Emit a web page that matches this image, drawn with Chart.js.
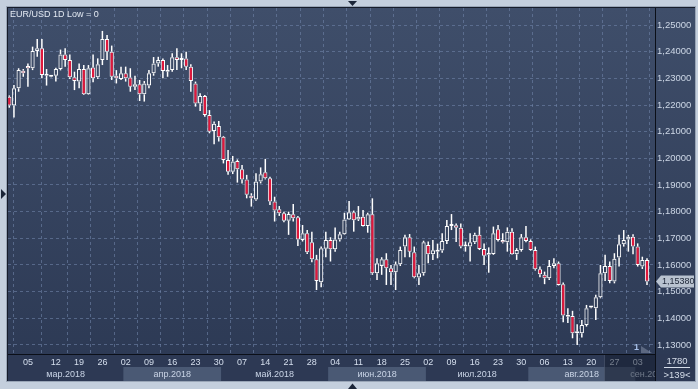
<!DOCTYPE html>
<html><head><meta charset="utf-8">
<script src="https://cdn.jsdelivr.net/npm/chart.js@4.4.1/dist/chart.umd.min.js"></script>
<style>html,body{margin:0;padding:0;background:#c4cfdd;overflow:hidden}canvas{display:block}</style>
</head><body>
<canvas id="c" width="698" height="389"></canvas>
<script>
// ---- data (EUR/USD daily) ----
const openP = [
1.2231,1.2198,1.2263,1.2329,1.2346,1.2338,1.2403,1.2413,1.2310,1.2306,
1.2310,1.2335,1.2390,1.2369,1.2304,1.2288,1.2335,1.2240,1.2341,1.2304,
1.2369,1.2448,1.2400,1.2310,1.2298,1.2319,1.2303,1.2269,1.2278,1.2240,
1.2273,1.2319,1.2356,1.2369,1.2325,1.2331,1.2379,1.2369,1.2375,1.2344,
1.2281,1.2206,1.2234,1.2163,1.2103,1.2121,1.2081,1.1994,1.1950,1.1990,
1.1959,1.1921,1.1860,1.1846,1.1913,1.1948,1.1925,1.1838,1.1809,1.1794,
1.1766,1.1790,1.1779,1.1694,1.1719,1.1685,1.1621,1.1535,1.1661,1.1694,
1.1659,1.1696,1.1715,1.1771,1.1798,1.1771,1.1781,1.1746,1.1790,1.1569,
1.1596,1.1621,1.1588,1.1573,1.1603,1.1669,1.1704,1.1648,1.1553,1.1569,
1.1675,1.1640,1.1650,1.1654,1.1690,1.1746,1.1749,1.1740,1.1669,1.1669,
1.1685,1.1713,1.1660,1.1638,1.1641,1.1734,1.1694,1.1685,1.1725,1.1640,
1.1656,1.1704,1.1690,1.1656,1.1584,1.1563,1.1550,1.1596,1.1606,1.1528,
1.1406,1.1409,1.1344,1.1344,1.1375,1.1440,1.1438,1.1479,1.1569,1.1596,
1.1538,1.1628,1.1678,1.1696,1.1706,1.1669,1.1594,1.1619];
const highP = [
1.2236,1.2275,1.2338,1.2335,1.2356,1.2419,1.2448,1.2448,1.2335,1.2310,
1.2340,1.2408,1.2413,1.2390,1.2325,1.2356,1.2350,1.2350,1.2390,1.2375,
1.2478,1.2463,1.2423,1.2331,1.2344,1.2344,1.2338,1.2310,1.2294,1.2290,
1.2331,1.2380,1.2381,1.2375,1.2350,1.2394,1.2413,1.2394,1.2400,1.2353,
1.2288,1.2244,1.2238,1.2181,1.2138,1.2140,1.2084,1.2031,1.2009,1.1996,
1.1975,1.1938,1.1869,1.1944,1.1966,1.1998,1.1931,1.1856,1.1821,1.1800,
1.1800,1.1829,1.1784,1.1750,1.1731,1.1725,1.1638,1.1669,1.1725,1.1704,
1.1741,1.1725,1.1796,1.1840,1.1804,1.1821,1.1806,1.1796,1.1850,1.1625,
1.1629,1.1644,1.1600,1.1613,1.1669,1.1713,1.1716,1.1669,1.1600,1.1691,
1.1688,1.1694,1.1680,1.1719,1.1769,1.1791,1.1756,1.1756,1.1688,1.1719,
1.1721,1.1744,1.1681,1.1666,1.1744,1.1750,1.1719,1.1741,1.1738,1.1663,
1.1716,1.1746,1.1696,1.1669,1.1594,1.1575,1.1619,1.1625,1.1613,1.1534,
1.1438,1.1428,1.1378,1.1394,1.1450,1.1444,1.1488,1.1600,1.1638,1.1613,
1.1644,1.1713,1.1731,1.1713,1.1715,1.1681,1.1631,1.1625];
const lowP = [
1.2190,1.2153,1.2250,1.2306,1.2269,1.2331,1.2381,1.2300,1.2273,1.2304,
1.2288,1.2330,1.2344,1.2298,1.2256,1.2263,1.2238,1.2238,1.2285,1.2298,
1.2350,1.2369,1.2294,1.2281,1.2294,1.2288,1.2250,1.2256,1.2215,1.2213,
1.2263,1.2310,1.2344,1.2300,1.2306,1.2325,1.2331,1.2338,1.2331,1.2250,
1.2194,1.2178,1.2156,1.2094,1.2053,1.2063,1.1981,1.1938,1.1941,1.1909,
1.1906,1.1850,1.1819,1.1841,1.1906,1.1921,1.1825,1.1763,1.1784,1.1760,
1.1713,1.1763,1.1671,1.1688,1.1641,1.1610,1.1506,1.1516,1.1629,1.1613,
1.1650,1.1688,1.1713,1.1769,1.1725,1.1765,1.1744,1.1721,1.1563,1.1544,
1.1563,1.1525,1.1525,1.1506,1.1596,1.1629,1.1629,1.1550,1.1525,1.1560,
1.1606,1.1619,1.1625,1.1646,1.1679,1.1731,1.1686,1.1663,1.1650,1.1613,
1.1679,1.1656,1.1600,1.1571,1.1638,1.1688,1.1681,1.1650,1.1638,1.1619,
1.1650,1.1685,1.1653,1.1579,1.1554,1.1528,1.1544,1.1588,1.1523,1.1385,
1.1382,1.1325,1.1300,1.1328,1.1369,1.1438,1.1394,1.1475,1.1540,1.1531,
1.1531,1.1594,1.1669,1.1650,1.1640,1.1594,1.1585,1.1525];
const closeP = [
1.2198,1.2263,1.2331,1.2319,1.2338,1.2403,1.2413,1.2313,1.2313,1.2308,
1.2335,1.2390,1.2369,1.2304,1.2290,1.2335,1.2240,1.2338,1.2300,1.2353,
1.2448,1.2400,1.2306,1.2300,1.2319,1.2300,1.2269,1.2278,1.2240,1.2281,
1.2319,1.2356,1.2369,1.2328,1.2331,1.2379,1.2369,1.2371,1.2344,1.2290,
1.2206,1.2234,1.2163,1.2100,1.2130,1.2079,1.1994,1.1950,1.1988,1.1959,
1.1921,1.1863,1.1850,1.1913,1.1940,1.1925,1.1838,1.1804,1.1794,1.1766,
1.1791,1.1775,1.1696,1.1719,1.1648,1.1621,1.1540,1.1663,1.1694,1.1659,
1.1696,1.1715,1.1771,1.1798,1.1768,1.1781,1.1746,1.1790,1.1569,1.1606,
1.1621,1.1588,1.1573,1.1603,1.1656,1.1704,1.1650,1.1554,1.1569,1.1685,
1.1640,1.1655,1.1655,1.1690,1.1746,1.1749,1.1740,1.1669,1.1671,1.1685,
1.1713,1.1660,1.1635,1.1641,1.1719,1.1694,1.1685,1.1725,1.1640,1.1656,
1.1704,1.1690,1.1656,1.1584,1.1565,1.1550,1.1596,1.1606,1.1525,1.1410,
1.1413,1.1344,1.1350,1.1375,1.1438,1.1441,1.1479,1.1569,1.1596,1.1540,
1.1623,1.1678,1.1694,1.1706,1.1669,1.1600,1.1619,1.1538];

const dayTickIdx = [4,10,15,20,25,30,35,40,45,50,55,60,65,70,75,80,85,90,95,100,105,110,115,120,125,130,135];
const dayTickLabels = ['05','12','19','26','02','09','16','23','30','07','14','21','28','04','11','18','25','02','09','16','23','30','06','13','20','27','03'];
const monthNames = ['мар.2018','апр.2018','май.2018','июн.2018','июл.2018','авг.2018','сен.2018'];
const monthStartIdx = [-10,25,46,69,90,112,135];
const priceTicks = [1.13,1.14,1.15,1.16,1.17,1.18,1.19,1.20,1.21,1.22,1.23,1.24,1.25];
const lastPrice = 1.15380;
const titleText = 'EUR/USD 1D Low = 0';
const barsTotal = '1780';
const barsVisible = '>139<';
const markerText = '1';

// ---- chart ----
const FONT = '"Liberation Sans", Arial, sans-serif';
Chart.defaults.font.family = FONT;
const RED = '#e0183c';
const fmt = v => v.toFixed(5).replace('.', ',');

const bodyData = openP.map((o, i) => ({x: i, y: [o, closeP[i]]}));
const upperWick = openP.map((o, i) => ({x: i, y: [Math.max(o, closeP[i]), highP[i]]}));
const lowerWick = openP.map((o, i) => ({x: i, y: [lowP[i], Math.min(o, closeP[i])]}));

const decor = {
  id: 'decor',
  beforeDraw(chart) {
    const {ctx, chartArea: a, width, height} = chart;
    const xs = chart.scales.x;
    ctx.save();
    ctx.fillStyle = '#c4cfdd';
    ctx.fillRect(0, 0, width, height);
    const g = ctx.createLinearGradient(0, a.top, 0, a.bottom);
    g.addColorStop(0, '#3f4e6a');
    g.addColorStop(1, '#2d3a55');
    ctx.fillStyle = g;
    ctx.fillRect(a.left, a.top, 695 - a.left, a.bottom - a.top);
    ctx.fillStyle = '#2d3954';
    ctx.fillRect(a.left, a.bottom, 695 - a.left, 381 - a.bottom);
    monthStartIdx.forEach((s, k) => {
      if (k % 2 === 1) {
        const x0 = Math.max(a.left, xs.getPixelForValue(s - 0.5));
        const e = k + 1 < monthStartIdx.length ? monthStartIdx[k + 1] - 0.5 : xs.max;
        const x1 = Math.min(a.right, xs.getPixelForValue(e));
        ctx.fillStyle = '#4a5974';
        ctx.fillRect(x0, 367, x1 - x0, 14);
      }
    });
    ctx.fillStyle = '#9aa6b7';
    ctx.fillRect(6, 6, 690, 1);
    ctx.fillRect(6, 6, 1, 376);
    ctx.fillRect(6, 381, 690, 1);
    ctx.fillRect(695, 6, 1, 376);
    ctx.fillStyle = '#161c2a';
    ctx.fillRect(7, 7, 688, 1);
    ctx.fillRect(7, 7, 1, 374);
    ctx.restore();
  },
  afterDraw(chart) {
    const {ctx, chartArea: a} = chart;
    const xs = chart.scales.x, ys = chart.scales.y;
    ctx.save();
    ctx.fillStyle = '#0b0f18';
    ctx.fillRect(a.right, a.top, 1, 381 - a.top);
    ctx.fillRect(a.left, a.bottom, a.right - a.left, 1);
    // month labels
    ctx.save();
    ctx.beginPath();
    ctx.rect(a.left, 366, a.right - a.left, 16);
    ctx.clip();
    ctx.font = '9px ' + FONT;
    ctx.fillStyle = '#c9d4e6';
    ctx.textBaseline = 'middle';
    monthStartIdx.forEach((s, k) => {
      const x0 = Math.max(a.left, xs.getPixelForValue(s - 0.5));
      if (k + 1 < monthStartIdx.length) {
        const xr = Math.min(a.right, xs.getPixelForValue(monthStartIdx[k + 1] - 0.5));
        ctx.textAlign = 'center';
        ctx.fillText(monthNames[k], (x0 + xr) / 2, 374.5);
      } else {
        ctx.textAlign = 'left';
        ctx.fillText(monthNames[k], x0 - 5, 374.5);
      }
    });
    ctx.restore();
    // dim overlay (navigator area)
    ctx.fillStyle = 'rgba(18,25,42,0.5)';
    ctx.fillRect(604, 355, a.right - 604, 26);
    ctx.fillStyle = 'rgba(120,135,160,0.35)';
    ctx.fillRect(604, 355, 1, 26);
    // marker
    ctx.fillStyle = 'rgba(150,162,185,0.45)';
    ctx.beginPath();
    ctx.moveTo(641, 346); ctx.lineTo(652, 353); ctx.lineTo(641, 353); ctx.closePath();
    ctx.fill();
    ctx.font = 'bold 9px ' + FONT;
    ctx.fillStyle = '#a9c2ea';
    ctx.textAlign = 'left';
    ctx.textBaseline = 'middle';
    ctx.fillText(markerText, 634, 348);
    // title
    ctx.font = '9px ' + FONT;
    ctx.fillStyle = '#e3e9f2';
    ctx.fillText(titleText, 10, 15);
    // last price tag
    const py = Math.round(ys.getPixelForValue(lastPrice)) + 0.5;
    ctx.fillStyle = '#b9c3d0';
    ctx.beginPath();
    ctx.moveTo(656, py);
    ctx.lineTo(661, py - 6);
    ctx.lineTo(694, py - 6);
    ctx.lineTo(694, py + 6);
    ctx.lineTo(661, py + 6);
    ctx.closePath();
    ctx.fill();
    ctx.font = '9px ' + FONT;
    ctx.fillStyle = '#1d2637';
    ctx.fillText(fmt(lastPrice), 662, py + 0.5);
    // bars counter box
    ctx.fillStyle = '#d6deea';
    ctx.textAlign = 'center';
    ctx.font = '9.5px ' + FONT;
    ctx.fillText(barsTotal, 677, 361);
    ctx.fillRect(664, 367, 26, 1);
    ctx.fillText(barsVisible, 677, 375);
    // frame triangles
    ctx.fillStyle = '#1b2538';
    ctx.beginPath(); ctx.moveTo(348, 1); ctx.lineTo(357, 1); ctx.lineTo(352.5, 6); ctx.closePath(); ctx.fill();
    ctx.beginPath(); ctx.moveTo(348, 389); ctx.lineTo(357, 389); ctx.lineTo(352.5, 383.5); ctx.closePath(); ctx.fill();
    ctx.beginPath(); ctx.moveTo(1, 189); ctx.lineTo(1, 199); ctx.lineTo(6, 194); ctx.closePath(); ctx.fill();
    ctx.restore();
  }
};

new Chart(document.getElementById('c'), {
  type: 'bar',
  data: {
    datasets: [
      {
        label: 'body',
        data: bodyData,
        backgroundColor: c => (closeP[c.dataIndex] < openP[c.dataIndex] ? RED : 'rgba(0,0,0,0)'),
        borderColor: '#ffffff',
        borderWidth: 1,
        borderSkipped: false,
        barThickness: 4.2,
        minBarLength: 2,
        grouped: false,
        inflateAmount: 0
      },
      {
        label: 'upper',
        data: upperWick,
        backgroundColor: '#ffffff',
        borderWidth: 0,
        barThickness: 1.5,
        grouped: false,
        inflateAmount: 0
      },
      {
        label: 'lower',
        data: lowerWick,
        backgroundColor: '#ffffff',
        borderWidth: 0,
        barThickness: 1.5,
        grouped: false,
        inflateAmount: 0
      }
    ]
  },
  options: {
    responsive: false,
    animation: false,
    events: [],
    devicePixelRatio: 1,
    layout: {padding: {left: 8, top: 8, right: 0, bottom: 0}},
    plugins: {legend: {display: false}, tooltip: {enabled: false}},
    scales: {
      x: {
        type: 'linear',
        min: -0.28,
        max: 138.72,
        offset: false,
        afterBuildTicks: s => { s.ticks = dayTickIdx.map(v => ({value: v})); },
        afterFit: s => { s.height = 35; },
        ticks: {
          autoSkip: false,
          maxRotation: 0,
          padding: 3,
          color: '#d5dfee',
          font: {size: 9},
          callback: v => { const k = dayTickIdx.indexOf(v); return k >= 0 ? dayTickLabels[k] : ''; }
        },
        grid: {color: 'rgba(112,132,168,0.6)', drawTicks: false, lineWidth: 1},
        border: {display: false, dash: [3, 3]}
      },
      y: {
        type: 'linear',
        position: 'right',
        min: 1.1266,
        max: 1.2564,
        afterBuildTicks: s => { s.ticks = priceTicks.map(v => ({value: v})); },
        afterFit: s => { s.width = 43; },
        ticks: {
          padding: 2,
          color: '#cdd7e6',
          font: {size: 9.5},
          callback: v => fmt(v)
        },
        grid: {color: 'rgba(112,132,168,0.6)', drawTicks: false, lineWidth: 1},
        border: {display: false, dash: [3, 3]}
      }
    }
  },
  plugins: [decor]
});
</script>
</body></html>
